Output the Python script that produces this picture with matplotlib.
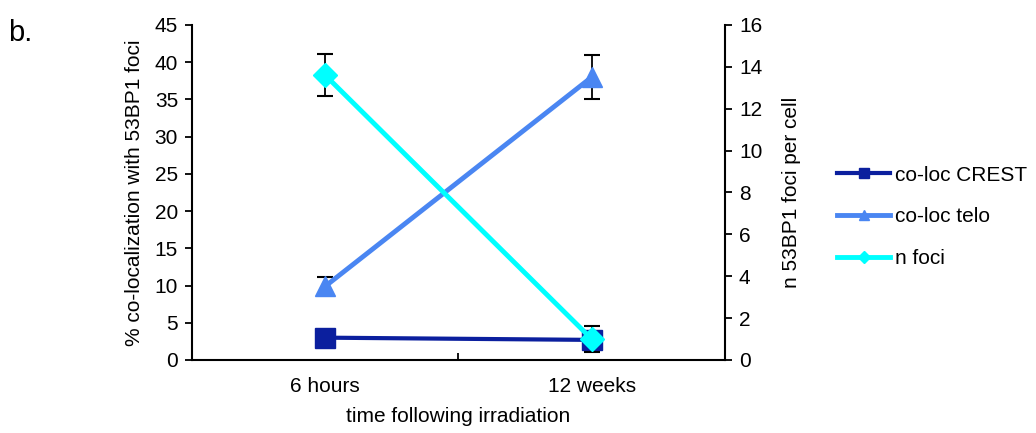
import numpy as np
import matplotlib.pyplot as plt
from matplotlib.lines import Line2D

plt.rcParams['font.family'] = ['Liberation Sans', 'DejaVu Sans']

# time points
categories = ["6 hours", "12 weeks"]

# % co-localization with 53BP1 foci (left axis)
crest = [3.0, 2.7]
crest_err = [0.4, 0.4]
telo = [9.9, 38.0]
telo_err = [1.2, 3.0]

# number of 53BP1 foci per cell (right axis)
nfoci = [13.6, 1.0]
nfoci_err = [1.0, 0.6]

c_crest = "#0b1f9e"
c_telo = "#4a86f2"
c_foci = "#00ffff"
fs = 15

fig = plt.figure(figsize=(10.36, 4.33), dpi=100)
ax = fig.add_axes([0.1853, 0.1686, 0.5145, 0.7737])
ax2 = ax.twinx()

x = np.arange(len(categories))

ax.errorbar(x, crest, yerr=crest_err, fmt='none', ecolor='black', elinewidth=1.3, capsize=6, capthick=1.5, zorder=1)
ax.errorbar(x, telo, yerr=telo_err, fmt='none', ecolor='black', elinewidth=1.3, capsize=6, capthick=1.5, zorder=1)
ax.plot(x, crest, color=c_crest, lw=3, marker='s', ms=14, zorder=3)
ax.plot(x, telo, color=c_telo, lw=3.5, marker='^', ms=15, zorder=2)

ax2.errorbar(x, nfoci, yerr=nfoci_err, fmt='none', ecolor='black', elinewidth=1.3, capsize=6, capthick=1.5, zorder=1)
ax2.plot(x, nfoci, color=c_foci, lw=3.5, marker='D', ms=12, zorder=3)

ax.set_xlim(-0.5, 1.5)
ax.set_ylim(0, 45)
ax.set_yticks(np.arange(0, 46, 5))
ax2.set_ylim(0, 16)
ax2.set_yticks(np.arange(0, 17, 2))

# category boundaries as ticks, labels centred between them
ax.set_xticks([-0.5, 0.5, 1.5])
ax.set_xticklabels([])
ax.set_xticks(x, minor=True)
ax.set_xticklabels(categories, minor=True)
ax.tick_params(axis='x', which='minor', length=0, pad=12, labelsize=fs)
ax.tick_params(axis='x', which='major', direction='in', length=5, width=1.3)
ax.tick_params(axis='y', direction='out', length=5, width=1.3, labelsize=fs, pad=5)
ax2.tick_params(axis='y', direction='out', length=5, width=1.3, labelsize=fs, pad=5)

for a in (ax, ax2):
    a.spines['top'].set_visible(False)
    for s in ('left', 'right', 'bottom'):
        a.spines[s].set_linewidth(1.5)
ax.spines['right'].set_visible(False)
ax2.spines['left'].set_visible(False)
ax2.spines['bottom'].set_visible(False)

ax.set_ylabel("% co-localization with 53BP1 foci", fontsize=fs, labelpad=8)
ax2.set_ylabel("n 53BP1 foci per cell", fontsize=fs, labelpad=14)
ax.set_xlabel("time following irradiation", fontsize=fs, labelpad=8)

handles = [
    Line2D([], [], color=c_crest, lw=3, marker='s', ms=7),
    Line2D([], [], color=c_telo, lw=3.5, marker='^', ms=7),
    Line2D([], [], color=c_foci, lw=3.5, marker='D', ms=6),
]
fig.legend(handles, ["co-loc CREST", "co-loc telo", "n foci"], loc='upper left',
           bbox_to_anchor=(0.800, 0.637), frameon=False, fontsize=fs,
           handlelength=2.55, handletextpad=0.25, labelspacing=1.1, borderaxespad=0)

fig.text(0.008, 0.905, "b.", fontsize=21)

fig.savefig("out.png", dpi=100)
